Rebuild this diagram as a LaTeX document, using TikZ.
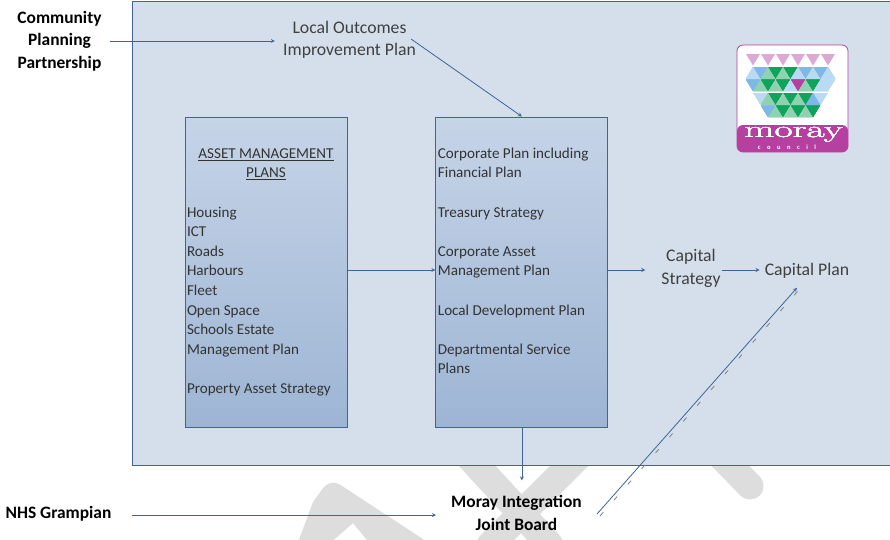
\documentclass[tikz,border=0pt]{standalone}
\usepackage{fontspec}
\setmainfont{Carlito}
\usetikzlibrary{arrows,positioning}

\definecolor{panelfill}{HTML}{D5DFEB}
\definecolor{edgeblue}{HTML}{3F6495}
\definecolor{boxtop}{HTML}{C6D4E7}
\definecolor{boxbottom}{HTML}{9DB5D4}
\definecolor{marks}{HTML}{DDDDDD}
\definecolor{logopink}{HTML}{DDA8D4}
\definecolor{logomagenta}{HTML}{B5409F}
\definecolor{logolb}{HTML}{B9DAF3}
\definecolor{logob}{HTML}{7DB8E6}
\definecolor{logog}{HTML}{8FD2B0}
\definecolor{logodg}{HTML}{0FA35C}

\tikzset{
  planbox/.style={rectangle, draw=edgeblue, line width=.9pt, top color=boxtop, bottom color=boxbottom,
    minimum height=310pt, inner sep=0pt, text=black!80},
  plainlabel/.style={align=center, inner sep=0pt, font=\fontsize{17.7}{22.5}\selectfont, text=black!75},
  outerlabel/.style={align=center, inner sep=0pt, font=\fontsize{17.4}{22.5}\selectfont\bfseries, text=black},
  flow/.style={->, >=stealth, edgeblue, line width=.8pt},
  stroke/.style={marks, line width=27pt, line cap=round},
}
\newcommand{\boxlines}[2]{\fontsize{15.1}{19.6}\selectfont
  \begin{tabular}{@{}p{#1pt}@{}}#2\end{tabular}}
\newcommand{\logotri}[4]{% x, y, down?, colour
  \ifnum#3=1
    \fill[#4] (#1-7,#2) -- (#1+7,#2) -- (#1,#2+11.5) -- cycle;
  \else
    \fill[#4] (#1-7,#2+11.5) -- (#1+7,#2+11.5) -- (#1,#2) -- cycle;
  \fi}

\begin{document}
\begin{tikzpicture}[x=1pt, y=-1pt]
    \clip (0,0) rectangle (890,539);
    \fill[white] (0,0) rectangle (890,539);

    % marks that show under the panel
    \draw[stroke] (458,445) -- (550,545);
    \draw[stroke] (590,445) -- (490,545);
    \draw[stroke] (710,445) -- (750,486);
    \fill[marks] (297,545) -- (313,502) [rounded corners=5pt] -- (326,484) -- (336,482)
      [sharp corners] -- (432,545) -- (371,545) -- (353,523) -- (328,545) -- cycle;

    \draw[edgeblue, fill=panelfill, line width=.8pt] (132,1) rectangle (900,465);

    \node[planbox, minimum width=162pt] (asset) at (266,272) {\boxlines{158}{
        \multicolumn{1}{@{}c@{}}{\underline{ASSET MANAGEMENT}}\\
        \multicolumn{1}{@{}c@{}}{\underline{PLANS}}\\[19.6pt]
        Housing\\ ICT\\ Roads\\ Harbours\\ Fleet\\ Open Space\\ Schools Estate\\ Management Plan\\[19.6pt]
        Property Asset Strategy}};
    \node[planbox, minimum width=172pt] (corporate) [right=88pt of asset] {\boxlines{168}{
        Corporate Plan including\\ Financial Plan\\[19.6pt]
        Treasury Strategy\\[19.6pt]
        Corporate Asset\\ Management Plan\\[19.6pt]
        Local Development Plan\\[19.6pt]
        Departmental Service\\ Plans\\
        \mbox{}}};

    \node[plainlabel] (outcomes) at (349.5,40) {Local Outcomes\\Improvement Plan};
    \node[plainlabel] (strategy) at (691,268.5) {Capital\\Strategy};
    \node[plainlabel] (capital) at (807,271) {Capital Plan};
    \node[outerlabel] (partnership) at (59.5,41) {Community\\Planning\\Partnership};
    \node[outerlabel] (nhs) at (58.5,514) {NHS Grampian};
    \node[outerlabel] (moray) at (516.5,513) {Moray Integration\\Joint Board};

    \path[flow]
    ([xshift=8pt]partnership.east) edge ([xshift=-8pt,yshift=-1pt]outcomes.west)
    ([xshift=-5pt,yshift=1pt]outcomes.east) edge (corporate.north)
    ([yshift=2pt]asset.east) edge ([yshift=2pt]corporate.west)
    ([yshift=2pt]corporate.east) edge ([xshift=-16pt,yshift=-1.5pt]strategy.west)
    ([xshift=1pt,yshift=-1.5pt]strategy.east) edge ([xshift=-5pt,yshift=1pt]capital.west)
    (corporate.south) edge ([xshift=5.4pt,yshift=15pt]moray.north)
    ([xshift=20pt,yshift=-1pt]nhs.east) edge ([xshift=-15pt,yshift=-2pt]moray.west)
    ([xshift=15pt,yshift=-1pt]moray.east) edge ([xshift=-10pt,yshift=-9pt]capital.south);

    % the faint copy of the long line
    \path[gray, dash pattern=on 5pt off 16pt, line width=.8pt]
    ([xshift=18pt,yshift=-3pt]moray.east) edge ([xshift=-8pt,yshift=-11pt]capital.south);

    % logo
    \draw[logomagenta, fill=white, line width=.8pt, rounded corners=6pt] (737,45) rectangle (848,152);
    \fill[logomagenta, rounded corners=6pt] (737,125) -- (848,125) -- (848,152) -- (737,152) -- cycle;
    \foreach \i in {0,...,5}
      \logotri{753+15*\i}{54}{1}{logopink}
    \foreach \rowy/\rowx/\flip/\cols in {
        67/753/0/{logolb,logob,logog,logodg,logog,logodg,logolb,logob,logolb,logob,logolb},
        79.5/753/1/{logob,logog,logodg,logog,logodg,logolb,logomagenta,logog,logodg,logolb,logolb},
        93/760.5/1/{logolb,logog,logodg,logog,logodg,logog,logodg,logob,logolb},
        105.5/768/1/{logob,logog,logodg,logog,logodg,logog,logodg}}{
      \foreach \col [count=\k from 0] in \cols {
        \pgfmathtruncatemacro{\isdown}{mod(\k+\flip,2)}
        \logotri{\rowx+7.5*\k}{\rowy}{\isdown}{\col}
      }
    }
    \node[inner sep=0pt, text=white, font=\fontfamily{lmr}\fontsize{23}{23}\selectfont, xscale=1.72] (logoname) at (793.5,134.5) {moray};
    \node[inner sep=0pt, text=white, font=\fontsize{6.5}{6.5}\selectfont\bfseries] (logosub) at (787,147.5) {c\quad o\quad u\quad n\quad c\quad i\quad l};
\end{tikzpicture}
\end{document}
